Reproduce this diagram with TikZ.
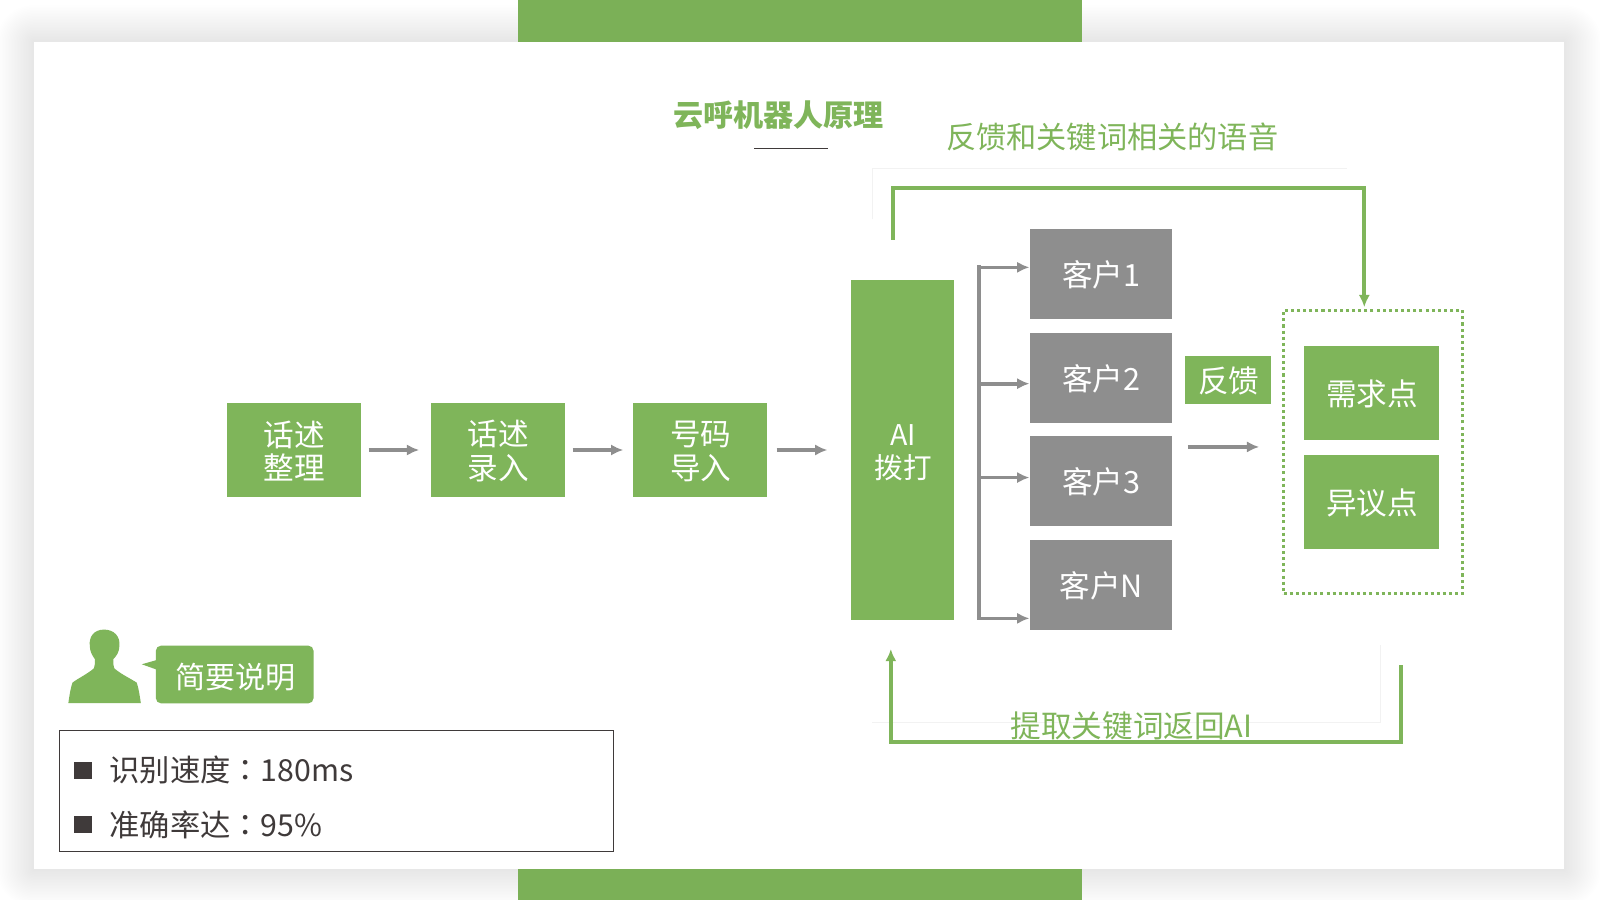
\documentclass[tikz,border=0pt]{standalone}
\usepackage{fontspec}
\setmainfont{Noto Sans CJK SC}
\newfontfamily\tcfont{Noto Sans CJK TC}
\usepackage{xcolor}
\usetikzlibrary{arrows.meta,calc}
\definecolor{leaf}{HTML}{7FB55A}
\definecolor{stone}{HTML}{8E8E8E}
\definecolor{ink}{HTML}{3F3A3A}
\tikzset{>={Latex[length=12pt,width=11pt]}}
\tikzset{
  boxtext/.style={text=white,align=center,inner sep=0pt,xshift=0.6pt,yshift=-1.1pt,font=\fontsize{30}{33}\selectfont},
  greenbox/.style={fill=leaf,inner sep=0pt},
  greybox/.style={fill=stone,inner sep=0pt,minimum width=139.5pt,minimum height=88pt},
  prepbox/.style={greenbox,minimum width=132pt,minimum height=92pt},
  flowarrow/.style={->,stone,line width=3.6pt},
  looparrow/.style={->,leaf,line width=3.6pt},
  faintline/.style={draw=black!5,line width=0.7pt},
  bullet/.style={fill=ink,minimum size=17pt,inner sep=0pt},
  infotext/.style={anchor=west,text=ink,inner sep=0pt,font=\fontsize{29.7}{33}\selectfont}
}

\begin{document}
\begin{tikzpicture}[x=1pt,y=-1pt]
  \useasboundingbox (0,0) rectangle (1568,882);
  \clip (0,0) rectangle (1568,882);

  % Panel
  \fill[white] (0,0) rectangle (1568,882);
  \foreach \r in {1.5,3,...,36} {
    \fill[black,opacity=0.004,rounded corners=\r pt] (33-\r,41-\r) rectangle (1533+\r,852+\r);
  }
  \fill[white] (33,41) rectangle (1533,852);
  \fill[leaf!97!black] (508,0) rectangle (1060,41);
  \fill[leaf!97!black] (508,852) rectangle (1060,882);

  % Title
  \node[text=leaf,font=\fontsize{29.5}{30}\selectfont\bfseries] (title) at (763,113) {云呼机器人原理};
  \coordinate (rule1) at (739,145);
  \coordinate (rule2) at (811,145);
  \draw[ink,line width=0.6pt] (rule1) -- (rule2);

  % Preparation
  \node[prepbox,label={[boxtext]center:{话述\\整理}}] (sort) at (288,441) {};
  \node[prepbox,label={[boxtext]center:{话述\\录入}}] (record) at (488,441) {};
  \node[prepbox,label={[boxtext]center:{号码\\导入}}] (number) at (686,441) {};
  \node[greenbox,minimum width=101pt,minimum height=332.5pt,label={[boxtext,yshift=-1.6pt,font=\fontsize{28}{33}\selectfont]center:{AI\\拨打}}] (dial) at (884.5,441) {};

  % Customers
  \node[greybox,label={[boxtext]center:{客户1}}] (client1) at (1078.75,268.5) {};
  \node[greybox,label={[boxtext]center:{客户2}}] (client2) at (1078.75,370.5) {};
  \node[greybox,label={[boxtext]center:{客户3}}] (client3) at (1078.75,471) {};
  \node[greybox,label={[boxtext]center:{客户N}}] (clientn) at (1078.75,573) {};

  % Results
  \node[greenbox,minimum width=83.5pt,minimum height=47pt,label={[boxtext]center:{反馈}}] (feedback) at (1203.5,372.5) {};
  \node[draw=leaf,line width=3pt,dash pattern=on 3pt off 3pt,minimum width=175pt,minimum height=278pt] (group) at (1345.5,443) {};
  \node[prepbox,label={[boxtext]center:{需求点}}] (need) at (1344,385) {};
  \node[prepbox,label={[boxtext]center:{异议点}}] (doubt) at (1344,492) {};

  % Lines
  \draw[flowarrow] ($(sort.east)+(7,0)$) -- ($(record.west)+(-11,0)$);
  \draw[flowarrow] ($(record.east)+(7,0)$) -- ($(number.west)+(-9,0)$);
  \draw[flowarrow] ($(number.east)+(9,0)$) -- ($(dial.west)+(-23,0)$);
  \coordinate (bustop) at (959,262);
  \coordinate (bus2) at (959,376);
  \coordinate (bus3) at (959,468);
  \coordinate (busbottom) at (959,606);
  \draw[stone,line width=3.8pt,line cap=rect] (bustop) -- (busbottom);
  \draw[flowarrow] (bustop) -- (bustop -| client1.west);
  \draw[flowarrow] (bus2) -- (bus2 -| client2.west);
  \draw[flowarrow] (bus3) -- (bus3 -| client3.west);
  \draw[flowarrow] (busbottom) -- (busbottom -| clientn.west);
  \coordinate (resultstart) at (1164,438);
  \coordinate (resultend) at (1234,438);
  \draw[flowarrow] (resultstart) -- (resultend);

  % Feedback loops
  \coordinate (loopa) at (875,235);
  \coordinate (loopb) at (1337,301);
  \coordinate (loopc) at (1373,652);
  \coordinate (loopd) at (873,636);
  \draw[faintline] (855,215) -- (855,165) -- (1320,165);
  \draw[faintline] (855,708) -- (1353,708) -- (1353,632);
  \draw[looparrow] (loopa) -- (875,184.5) -- (1337,184.5) -- (loopb);
  \draw[looparrow] (loopc) -- (1373,727) -- (873,727) -- (loopd);
  \node[text=leaf,font=\fontsize{29.6}{32}\selectfont] (toplabel) at (1090,134) {反馈和关键词相关的语音};
  \node[text=leaf,font=\fontsize{30}{32}\selectfont] (bottomlabel) at (1109,711) {提取关键词返回AI};

  % Note
  \fill[leaf] (102,617) .. controls (92,617) and (87,624) .. (88,633)
    .. controls (88,639) and (91,643) .. (93,646)
    .. controls (93,650) and (93,653) .. (92,655)
    .. controls (85,661) and (76,665) .. (71,669)
    .. controls (69,675) and (68,682) .. (67,689)
    -- (138,689)
    .. controls (137,682) and (136,675) .. (134,669)
    .. controls (128,665) and (119,661) .. (112,655)
    .. controls (111,653) and (111,650) .. (111,646)
    .. controls (114,643) and (117,639) .. (117,633)
    .. controls (118,624) and (112,617) .. (102,617) -- cycle;
  \node[fill=leaf,rounded corners=5pt,inner sep=0pt,minimum width=154.5pt,minimum height=56.5pt,label={[boxtext,yshift=-1pt,font=\fontsize{29.5}{33}\selectfont]center:{简要说明}}] (bubble) at (230,661) {};
  \coordinate (tailtip) at (139,651);
  \fill[leaf] (tailtip) -- (153,647) -- (153,656) -- cycle;
  \node[draw=ink,line width=0.9pt,minimum width=543pt,minimum height=118pt,inner sep=0pt] (infobox) at (329.5,775) {};
  \node[bullet] (bullet1) at (81.5,755) {};
  \node[bullet] (bullet2) at (81.5,808) {};
  \node[infotext] (speed) at (107,755) {识别速度{\tcfont ：}180ms};
  \node[infotext] (rate) at (107,808) {准确率达{\tcfont ：}95\%};
\end{tikzpicture}
\end{document}
